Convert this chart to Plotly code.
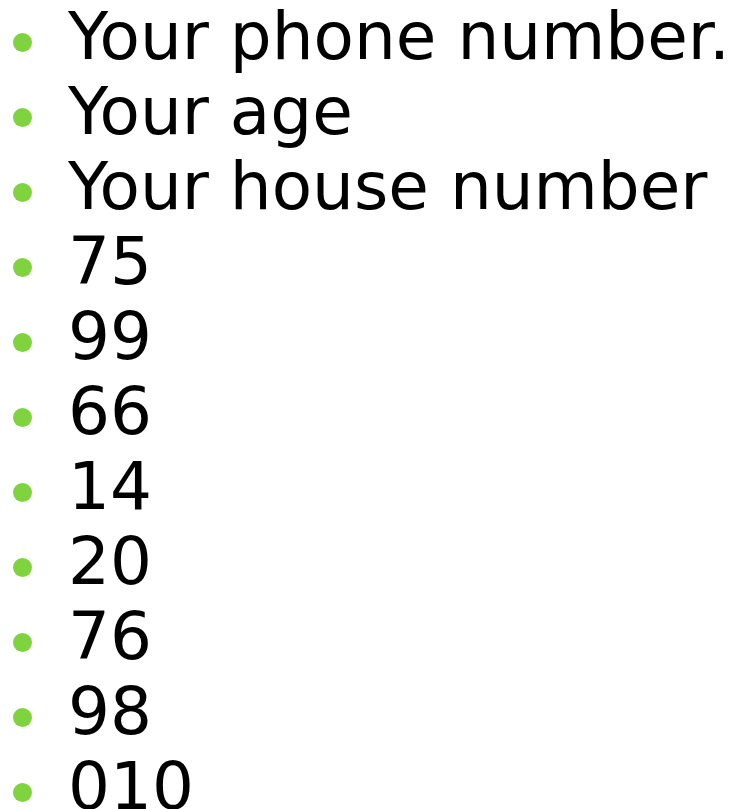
import plotly.graph_objects as go

items = ["Your phone number.", "Your age", "Your house number",
         "75", "99", "66", "14", "20", "76", "98", "010"]
positions = list(range(len(items)))

W, H = 736, 809
fig = go.Figure()
fig.add_trace(go.Scatter(
    x=[22.5] * len(items), y=positions, mode="markers",
    marker=dict(size=19, color="#7ED33F", line=dict(width=0)),
    hoverinfo="skip", showlegend=False, cliponaxis=False))
fig.add_trace(go.Scatter(
    x=[68] * len(items), y=positions, mode="text", text=items,
    textposition="middle right",
    textfont=dict(family="DejaVu Sans", size=66, color="#000000"),
    hoverinfo="skip", showlegend=False, cliponaxis=False))

fig.update_layout(
    width=W, height=H, margin=dict(l=0, r=0, t=0, b=0),
    paper_bgcolor="white", plot_bgcolor="white",
    xaxis=dict(range=[0, W], visible=False, fixedrange=True),
    yaxis=dict(range=[(H - 42.5) / 75, -42.5 / 75], visible=False, fixedrange=True),
)
fig.write_html("out.html", config={"displayModeBar": False},
               post_script="document.body.style.margin='0';")
